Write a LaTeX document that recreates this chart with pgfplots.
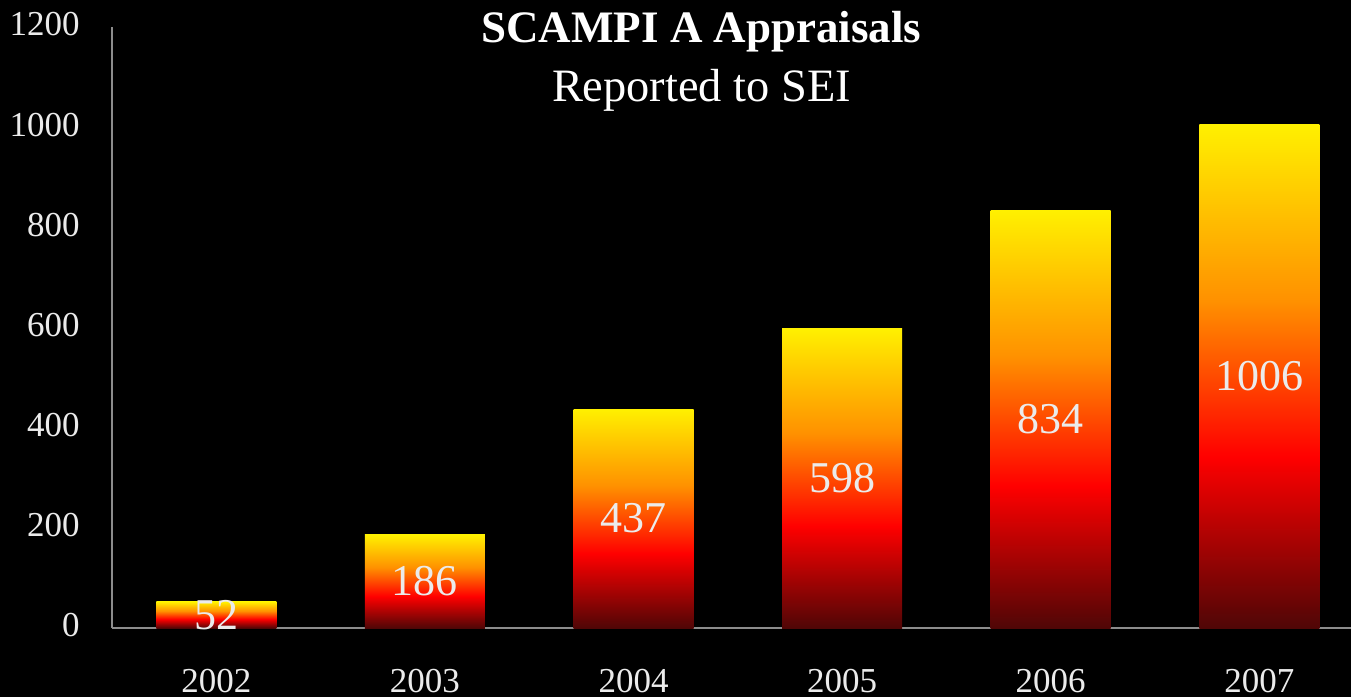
\documentclass[border=0pt]{standalone}
\usepackage{fontspec}
\setmainfont{Liberation Serif}
\usepackage{pgfplots}
\pgfplotsset{compat=1.18}
\definecolor{bdark}{RGB}{80,6,6}
\definecolor{bred}{RGB}{255,0,0}
\definecolor{borange}{RGB}{255,145,0}
\definecolor{byellow}{RGB}{255,240,0}
\definecolor{axgray}{RGB}{140,140,140}
\definecolor{txt}{RGB}{235,235,235}
\pgfdeclareverticalshading{barshade}{100bp}{color(0bp)=(bdark); color(25bp)=(bdark); color(42bp)=(bred); color(57.5bp)=(borange); color(75bp)=(byellow); color(100bp)=(byellow)}
\pgfplotsset{mybar/.style={ybar, bar width=60pt, bar shift=0pt, draw=none, shading=barshade}}
\begin{document}
\begin{tikzpicture}
\path[use as bounding box, fill=black] (0,0) rectangle (675.5pt,348.5pt);
\begin{axis}[
  at={(56pt,34.5pt)}, anchor=south west,
  scale only axis, width=625.8pt, height=300.5pt,
  xmin=-0.5, xmax=5.5, ymin=0, ymax=1200,
  axis x line*=bottom, axis y line*=left,
  axis line style={-, draw=axgray, line width=0.75pt},
  xtick={0,1,2,3,4,5},
  xticklabels={2002,2003,2004,2005,2006,2007},
  ytick={0,200,400,600,800,1000,1200},
  major tick length=0pt,
  /pgf/number format/assume math mode=true,
  /pgf/number format/1000 sep={},
  tick label style={text=txt, font=\fontsize{17.5}{20}\selectfont, inner sep=0pt},
  xticklabel style={anchor=base, yshift=-32pt},
  yticklabel style={anchor=east, xshift=-16pt, yshift=1.25pt},
  clip=false,
]
\addplot[mybar] coordinates {(0,52)};
\addplot[mybar] coordinates {(1,186)};
\addplot[mybar] coordinates {(2,437)};
\addplot[mybar] coordinates {(3,598)};
\addplot[mybar] coordinates {(4,834)};
\addplot[mybar] coordinates {(5,1006)};
\addplot[draw=none, mark=none, nodes near coords, point meta=explicit symbolic,
  every node near coord/.append style={anchor=center, text=txt, inner sep=0pt, font=\fontsize{22}{24}\selectfont}]
  coordinates {(0,26)[52] (1,93)[186] (2,218.5)[437] (3,299)[598] (4,417)[834] (5,503)[1006]};
\end{axis}
\node[anchor=base, inner sep=0pt, text=white, font=\fontsize{22.5}{26}\selectfont\bfseries] at (350.75pt,327pt) {SCAMPI A Appraisals};
\node[anchor=base, inner sep=0pt, text=white, font=\fontsize{23.2}{26}\selectfont] at (350.75pt,297.5pt) {Reported to SEI};
\end{tikzpicture}
\end{document}
